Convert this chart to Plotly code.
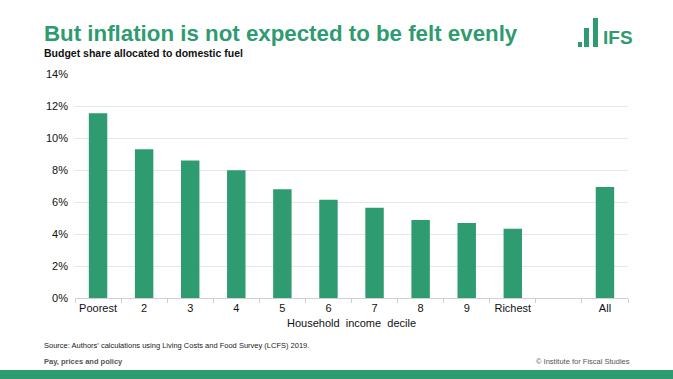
import plotly.graph_objects as go

categories = ["Poorest", "2", "3", "4", "5", "6", "7", "8", "9", "Richest", " ", "All"]
budget_share = [11.55, 9.30, 8.59, 7.99, 6.80, 6.14, 5.64, 4.87, 4.68, 4.33, None, 6.93]
y_ticks = [0, 2, 4, 6, 8, 10, 12, 14]
y_tick_labels = ["0%", "2%", "4%", "6%", "8%", "10%", "12%", "14%"]

GREEN = "#2E9B70"
FONT = "Liberation Sans, Arial, sans-serif"

L, T, PW, PH = 75, 74, 553, 224


def px(xp):
    return (xp - L) / PW


def py(yp):
    return (T + PH - yp) / PH


fig = go.Figure()
fig.add_trace(go.Bar(
    x=categories, y=budget_share, marker=dict(color=GREEN, line=dict(width=0)),
    width=0.4, hoverinfo="x+y",
))

fig.update_layout(
    width=673, height=379,
    margin=dict(l=L, r=673 - L - PW, t=T, b=379 - T - PH, pad=0),
    paper_bgcolor="white", plot_bgcolor="white",
    showlegend=False,
    font=dict(family=FONT, size=11, color="#222222"),
)
fig.update_xaxes(
    type="category", categoryorder="array", categoryarray=categories,
    tickson="boundaries", ticks="outside", ticklen=4, tickcolor="#d0d0d0",
    showline=True, linecolor="#d0d0d0", linewidth=1, showgrid=False,
    tickangle=0, automargin=False,
    tickfont=dict(size=11, color="#111111"),
    title=dict(text="Household  income  decile", font=dict(size=11, color="#111111"), standoff=6),
)
fig.update_yaxes(
    range=[0, 14], tickvals=y_ticks, ticktext=y_tick_labels,
    showgrid=True, gridcolor="#e6e6e6", gridwidth=1, zeroline=False,
    automargin=False,
    ticks="", ticklabelstandoff=6, tickfont=dict(size=11, color="#111111"),
)

# Title & subtitle
fig.add_annotation(text="<b>But inflation is not expected to be felt evenly</b>",
                   xref="paper", yref="paper", x=px(42), y=py(48), xanchor="left", yanchor="bottom",
                   showarrow=False,
                   font=dict(family=FONT, size=22.3, color=GREEN))
fig.add_annotation(text="<b>Budget share allocated to domestic fuel</b>",
                   xref="paper", yref="paper", x=px(42), y=py(61), xanchor="left", yanchor="bottom",
                   showarrow=False,
                   font=dict(family=FONT, size=10.5, color="#111111"))

# Logo
for x0, x1, y0 in [(578, 582, 42), (584, 589, 28), (593, 598, 18)]:
    fig.add_shape(type="rect", xref="paper", yref="paper",
                  x0=px(x0), x1=px(x1), y0=py(47), y1=py(y0),
                  fillcolor=GREEN, line=dict(width=0), layer="above")
fig.add_annotation(text="<b>IFS</b>", xref="paper", yref="paper",
                   x=px(601), y=py(50), xanchor="left", yanchor="bottom",
                   showarrow=False, font=dict(family="Liberation Sans Narrow, Arial Narrow, Arial, sans-serif", size=19, color=GREEN))

# Footer
fig.add_annotation(text="Source: Authors' calculations using Living Costs and Food Survey (LCFS) 2019.",
                   xref="paper", yref="paper", x=px(42), y=py(345),
                   xanchor="left", yanchor="middle", showarrow=False,
                   font=dict(family=FONT, size=7.5, color="#222222"))
fig.add_annotation(text="<b>Pay, prices and policy</b>",
                   xref="paper", yref="paper", x=px(42), y=py(361),
                   xanchor="left", yanchor="middle", showarrow=False,
                   font=dict(family=FONT, size=7.5, color="#555555"))
fig.add_annotation(text="© Institute for Fiscal Studies",
                   xref="paper", yref="paper", x=px(632), y=py(361),
                   xanchor="right", yanchor="middle", showarrow=False,
                   font=dict(family=FONT, size=7.5, color="#555555"))
fig.add_shape(type="rect", xref="paper", yref="paper",
              x0=px(0), x1=px(673), y0=py(380), y1=py(370),
              fillcolor=GREEN, line=dict(width=0), layer="above")

fig.write_html("out.html", config={"displayModeBar": False},
               post_script="document.body.style.margin='0';")
